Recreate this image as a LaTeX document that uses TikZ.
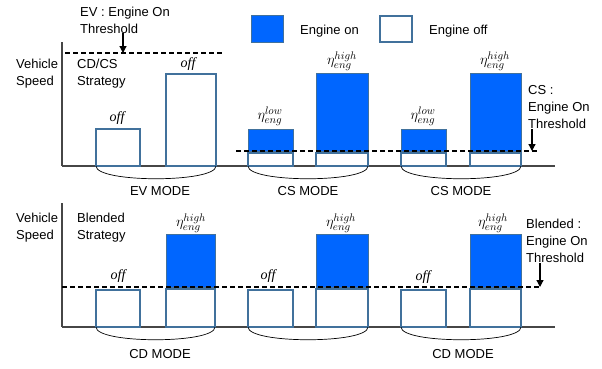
\documentclass[tikz,border=0pt]{standalone}
\usepackage{fontspec}
\setmainfont{Liberation Sans}
\newfontfamily\tms{Liberation Serif}
\usetikzlibrary{arrows.meta}
\definecolor{engblue}{RGB}{0,102,255}
\definecolor{edgeblue}{RGB}{65,113,156}
\definecolor{axisgray}{RGB}{70,70,70}
\def\off{{\tms\itshape\fontsize{14}{14}\selectfont off}}
\def\etahi{{\fontsize{15.5}{15.5}\selectfont$\eta_{eng}^{high}$}}
\def\etalo{{\fontsize{15.5}{15.5}\selectfont$\eta_{eng}^{low}$}}

\begin{document}
\begin{tikzpicture}[x=1pt,y=-1pt,font=\fontsize{13}{17}\selectfont,
  offbox/.style={draw=edgeblue,line width=1.5pt,fill=white,rectangle,inner sep=0pt,outer sep=0pt,anchor=south west},
  onbox/.style={draw=edgeblue,line width=0.6pt,fill=engblue,rectangle,inner sep=0pt,outer sep=0pt,anchor=south west},
  txt/.style={align=left,inner sep=0pt,anchor=west},
  thres/.style={line width=1.8pt,dash pattern=on 5pt off 3pt},
  axis/.style={draw=axisgray,line width=1.2pt},
  arc/.style={line width=0.7pt},
  tip/.style={-{Triangle[width=7pt,length=7pt]},line width=1.2pt}]
\useasboundingbox (0,0) rectangle (602,368);
%legend
\node[onbox,minimum width=32pt,minimum height=27pt] (legon) at (251,42) {};
\node[txt] (legontxt) at (300,31) {Engine on};
\node[offbox,minimum width=32pt,minimum height=26pt] (legoff) at (380,42) {};
\node[txt] (legofftxt) at (429,31) {Engine off};

%upper plot: CD/CS
\draw[axis] (62,42) to (62,166);
\draw[axis] (62,166) to (555,166);
\node[txt] (vs1) at (16,73.5) {Vehicle\\Speed};
\node[txt] (cdcs) at (77,73.5) {CD/CS\\Strategy};
%boxes
\node[offbox,minimum width=44pt,minimum height=37pt] (t1) at (96,166) {};
\node[offbox,minimum width=50pt,minimum height=92pt] (t2) at (166,166) {};
\node[offbox,minimum width=45pt,minimum height=13pt] (t3) at (248,166) {};
\node[onbox,minimum width=45pt,minimum height=22pt] (t3on) at (248,151) {};
\node[offbox,minimum width=52pt,minimum height=13pt] (t4) at (316,166) {};
\node[onbox,minimum width=52pt,minimum height=78pt] (t4on) at (316,151) {};
\node[offbox,minimum width=45pt,minimum height=13pt] (t5) at (401,166) {};
\node[onbox,minimum width=45pt,minimum height=22pt] (t5on) at (401,151) {};
\node[offbox,minimum width=51pt,minimum height=13pt] (t6) at (470,166) {};
\node[onbox,minimum width=51pt,minimum height=78pt] (t6on) at (470,151) {};
%labels
\node (o1) at (117,118) {\off};
\node (o2) at (188,64) {\off};
\node (e3) at (270,116) {\etalo};
\node (e4) at (342,61) {\etahi};
\node (e5) at (423,116) {\etalo};
\node (e6) at (495,61) {\etahi};
%thresholds
\draw[thres] (65,53) to (224,53);
\draw[thres] (236,151) to (538,151);
\node[txt] (evlab) at (80,20) {EV : Engine On\\Threshold};
\coordinate (evtip) at (123,53);
\draw[tip] (evlab.south -| evtip) to (evtip);
\node[txt] (cslab) at (528,107.5) {CS :\\Engine On\\Threshold};
\coordinate (cstip) at (532,151);
\draw[tip] (cslab.south -| cstip) to (cstip);
%modes
\draw[arc] (t1.south west) .. controls +(0,17) and +(0,17) .. (t2.south east);
\draw[arc] (t3.south west) .. controls +(0,17) and +(0,17) .. (t4.south east);
\draw[arc] (t5.south west) .. controls +(0,17) and +(0,17) .. (t6.south east);
\node (ev) at (160,191) {EV MODE};
\node (cs1) at (308,191) {CS MODE};
\node (cs2) at (461,191) {CS MODE};

%lower plot: blended
\draw[axis] (62,203) to (62,327);
\draw[axis] (62,327) to (555,327);
\node[txt] (vs2) at (16,227.5) {Vehicle\\Speed};
\node[txt] (blend) at (77,227.5) {Blended\\Strategy};
%boxes
\node[offbox,minimum width=44pt,minimum height=37pt] (b1) at (96,327) {};
\node[offbox,minimum width=49pt,minimum height=38pt] (b2) at (166,327) {};
\node[onbox,minimum width=49pt,minimum height=53pt] (b2on) at (166,287) {};
\node[offbox,minimum width=45pt,minimum height=37pt] (b3) at (248,327) {};
\node[offbox,minimum width=52pt,minimum height=38pt] (b4) at (316,327) {};
\node[onbox,minimum width=52pt,minimum height=53pt] (b4on) at (316,287) {};
\node[offbox,minimum width=45pt,minimum height=37pt] (b5) at (401,327) {};
\node[offbox,minimum width=51pt,minimum height=38pt] (b6) at (470,327) {};
\node[onbox,minimum width=51pt,minimum height=53pt] (b6on) at (470,287) {};
%labels
\node (p1) at (118,276) {\off};
\node (p3) at (268,276) {\off};
\node (p5) at (423,277) {\off};
\node (f2) at (191,223) {\etahi};
\node (f4) at (341,223) {\etahi};
\node (f6) at (493,223) {\etahi};
%threshold
\draw[thres] (62,287) to (540,287);
\node[txt] (bllab) at (526,241) {Blended :\\Engine On\\Threshold};
\coordinate (bltip) at (540,287);
\draw[tip] (bllab.south -| bltip) to (bltip);
%modes
\draw[arc] (b1.south west) .. controls +(0,17) and +(0,17) .. (b2.south east);
\draw[arc] (b3.south west) .. controls +(0,17) and +(0,17) .. (b4.south east);
\draw[arc] (b5.south west) .. controls +(0,17) and +(0,17) .. (b6.south east);
\node (cd1) at (160,354) {CD MODE};
\node (cd2) at (463,354) {CD MODE};
\end{tikzpicture}
\end{document}
